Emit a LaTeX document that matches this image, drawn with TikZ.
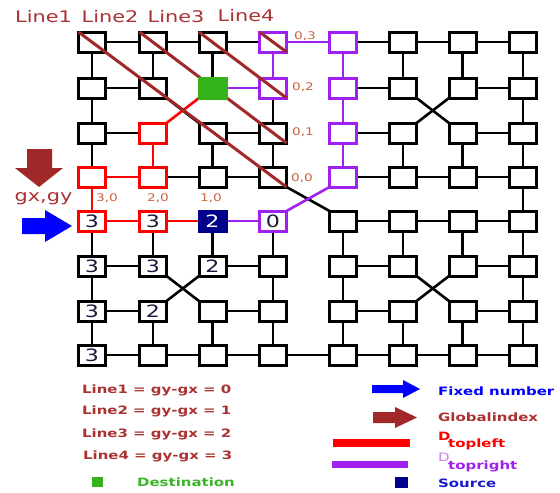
\documentclass[tikz,border=0pt]{standalone}
\usepackage{fontspec}
\setmainfont{DejaVu Sans}
\usepackage{graphicx}
\usetikzlibrary{backgrounds}
\definecolor{cred}{RGB}{255,0,0}
\definecolor{cpur}{RGB}{160,32,240}
\definecolor{cbrown}{RGB}{160,40,40}
\definecolor{cgreen}{RGB}{51,178,25}
\definecolor{cnavy}{RGB}{0,0,139}
\definecolor{cblue}{RGB}{0,0,255}
\definecolor{clbl}{RGB}{200,100,60}
\definecolor{ctxt}{RGB}{170,50,50}
\definecolor{cdig}{RGB}{25,25,60}
\definecolor{cdest}{RGB}{60,180,40}
\definecolor{csrc}{RGB}{25,25,200}
\definecolor{cpurl}{RGB}{200,130,240}
\newcommand{\stx}[1]{\scalebox{1.3}[1]{#1}}
\begin{document}
\begin{tikzpicture}[x=1pt,y=-1pt,
  box/.style={draw=black,line width=3pt,fill=white,minimum width=27pt,minimum height=20pt,inner sep=0pt,outer sep=0pt,text=cdig,font=\fontsize{17}{17}\selectfont},
  rbox/.style={box,draw=cred},
  pbox/.style={box,draw=cpur},
  gbox/.style={box,draw=cgreen,fill=cgreen},
  sbox/.style={box,draw=cnavy,fill=cnavy,text=white},
  conn/.style={line width=2.6pt,draw=black},
  rconn/.style={conn,draw=cred},
  pconn/.style={conn,draw=cpur},
  diag/.style={line width=3pt,draw=cbrown},
  clabel/.style={text=clbl,inner sep=0pt,anchor=base,font=\fontsize{10.5}{10.5}\selectfont},
  toplbl/.style={text=ctxt,inner sep=0pt,font=\fontsize{16}{16}\selectfont},
  legtxt/.style={inner sep=0pt,anchor=west,font=\bfseries\fontsize{11.5}{11.5}\selectfont},
]
\useasboundingbox (0,0) rectangle (560,493);
\def\xs{{92,153,212.5,273,343,403,462.5,523}}
% boxes
\foreach \c/\s/\t in {0/box/{},1/box/{},2/box/{},3/pbox/{},4/pbox/{},5/box/{},6/box/{},7/box/{}}
  {\pgfmathsetmacro{\xx}{\xs[\c]}\node[\s] (n0\c) at (\xx,42) {\stx{\t}};}
\foreach \c/\s/\t in {0/box/{},1/box/{},3/pbox/{},4/pbox/{},5/box/{},6/box/{},7/box/{}}
  {\pgfmathsetmacro{\xx}{\xs[\c]}\node[\s] (n1\c) at (\xx,88) {\stx{\t}};}
\foreach \c/\s/\t in {0/box/{},1/rbox/{},2/box/{},3/box/{},4/pbox/{},5/box/{},6/box/{},7/box/{}}
  {\pgfmathsetmacro{\xx}{\xs[\c]}\node[\s] (n2\c) at (\xx,133) {\stx{\t}};}
\foreach \c/\s/\t in {0/rbox/{},1/rbox/{},2/box/{},3/box/{},4/pbox/{},5/box/{},6/box/{},7/box/{}}
  {\pgfmathsetmacro{\xx}{\xs[\c]}\node[\s] (n3\c) at (\xx,177) {\stx{\t}};}
\foreach \c/\s/\t in {0/rbox/3,1/rbox/3,2/sbox/2,3/pbox/0,4/box/{},5/box/{},6/box/{},7/box/{}}
  {\pgfmathsetmacro{\xx}{\xs[\c]}\node[\s] (n4\c) at (\xx,221) {\stx{\t}};}
\foreach \c/\s/\t in {0/box/3,1/box/3,2/box/2,3/box/{},4/box/{},5/box/{},6/box/{},7/box/{}}
  {\pgfmathsetmacro{\xx}{\xs[\c]}\node[\s] (n5\c) at (\xx,266) {\stx{\t}};}
\foreach \c/\s/\t in {0/box/3,1/box/2,2/box/{},3/box/{},4/box/{},5/box/{},6/box/{},7/box/{}}
  {\pgfmathsetmacro{\xx}{\xs[\c]}\node[\s] (n6\c) at (\xx,311) {\stx{\t}};}
\foreach \c/\s/\t in {0/box/3,1/box/{},2/box/{},3/box/{},4/box/{},5/box/{},6/box/{},7/box/{}}
  {\pgfmathsetmacro{\xx}{\xs[\c]}\node[\s] (n7\c) at (\xx,355) {\stx{\t}};}
% brown diagonal lines
\draw[diag] (n00.north west) -- (n33.south east);
\draw[diag] (n01.north west) -- (n23.south east);
\draw[diag] (n02.north west) -- (n13.south east);
\draw[diag] (n03.north west) -- (n03.south east);
% destination box on top
\node[gbox] (n12) at (212.5,88) {};
% connectors
\begin{pgfonlayer}{background}
\foreach \a/\b in {00/01,01/02,02/03,00/10,01/11,02/12,10/11,10/20,13/23,20/21,22/23,20/30,22/32,23/33,31/32,32/33,
  04/05,05/06,06/07,05/15,06/16,07/17,14/15,16/17,17/27,24/25,26/27,25/35,26/36,27/37,34/35,35/36,36/37,
  40/50,41/51,42/52,43/53,50/51,52/53,50/60,53/63,60/61,62/63,60/70,61/71,62/72,63/73,70/71,71/72,72/73,
  44/45,45/46,46/47,44/54,45/55,46/56,47/57,54/55,56/57,54/64,57/67,64/65,66/67,64/74,65/75,66/76,67/77,74/75,75/76,76/77,
  73/74,37/47}
  \draw[conn] (n\a) -- (n\b);
\foreach \a/\b in {21/31,30/31,30/40,40/41,41/42}
  \draw[rconn] (n\a) -- (n\b);
\foreach \a/\b in {03/04,03/13,12/13,04/14,14/24,24/34,42/43}
  \draw[pconn] (n\a) -- (n\b);
\foreach \a/\b in {11/22,15/26,51/62,55/66,33/44}
  \draw[conn] (n\a.south east) -- (n\b.north west);
\foreach \a/\b in {25/16,61/52,65/56}
  \draw[conn] (n\a.north east) -- (n\b.south west);
\draw[rconn] (n21.north east) -- (n12.south west);
\draw[pconn] (n43.north east) -- (n34.south west);
\end{pgfonlayer}
% coordinate labels
\node[clabel] (c30) at (107,201) {\stx{3,0}};
\node[clabel] (c20) at (158,201) {\stx{2,0}};
\node[clabel] (c10) at (211,201) {\stx{1,0}};
\node[clabel] (c00) at (302,181) {\stx{0,0}};
\node[clabel] (c01) at (303,135) {\stx{0,1}};
\node[clabel] (c02) at (303,90) {\stx{0,2}};
\node[clabel] (c03) at (305,39) {\stx{0,3}};
% top labels
\node[toplbl] (t1) at (43.5,17) {\stx{Line1}};
\node[toplbl] (t2) at (110,17) {\stx{Line2}};
\node[toplbl] (t3) at (176,17) {\stx{Line3}};
\node[toplbl] (t4) at (246,16) {\stx{Line4}};
\node[toplbl,anchor=base] (gxgy) at (43.5,201) {\stx{gx,gy}};
% arrows
\fill[cbrown] (27,149) -- (52,149) -- (52,168) -- (63,168) -- (39,187) -- (15,168) -- (27,168) -- cycle;
\fill[cblue] (22,218) -- (45,218) -- (45,210) -- (72,226) -- (45,242) -- (45,234) -- (22,234) -- cycle;
% legend left
\node[legtxt,text=ctxt] (L1) at (82,390) {\stx{Line1 = gy-gx = 0}};
\node[legtxt,text=ctxt] (L2) at (82,411) {\stx{Line2 = gy-gx = 1}};
\node[legtxt,text=ctxt] (L3) at (82,434) {\stx{Line3 = gy-gx = 2}};
\node[legtxt,text=ctxt] (L4) at (83,456) {\stx{Line4 = gy-gx = 3}};
\fill[cgreen] (92,477) rectangle (103,487);
\node[legtxt,text=cdest] (Ld) at (137,482) {\stx{Destination}};
% legend right
\fill[cblue] (372,385) -- (403,385) -- (403,380) -- (420,389) -- (403,398) -- (403,393) -- (372,393) -- cycle;
\node[legtxt,text=cblue] (Lf) at (438,391) {\stx{Fixed number}};
\fill[cbrown] (373,412) -- (395,412) -- (395,407) -- (417,417.5) -- (395,428) -- (395,423) -- (373,423) -- cycle;
\node[legtxt,text=ctxt] (Lg) at (438,417) {\stx{Globalindex}};
\fill[cred] (333,439) rectangle (410,447);
\node[legtxt,text=cred] (Ld1) at (438,436) {\stx{D}};
\node[legtxt,text=cred] (Ld2) at (448,444.5) {\stx{topleft}};
\fill[cpur] (332,461) rectangle (408,468);
\node[legtxt,text=cpurl,font=\fontsize{11.5}{11.5}\selectfont] (Lp1) at (438,457) {\stx{D}};
\node[legtxt,text=cpur] (Lp2) at (448,466) {\stx{topright}};
\fill[cnavy] (395,477) rectangle (408,488);
\node[legtxt,text=csrc] (Ls) at (438,483) {\stx{Source}};
\end{tikzpicture}
\end{document}
